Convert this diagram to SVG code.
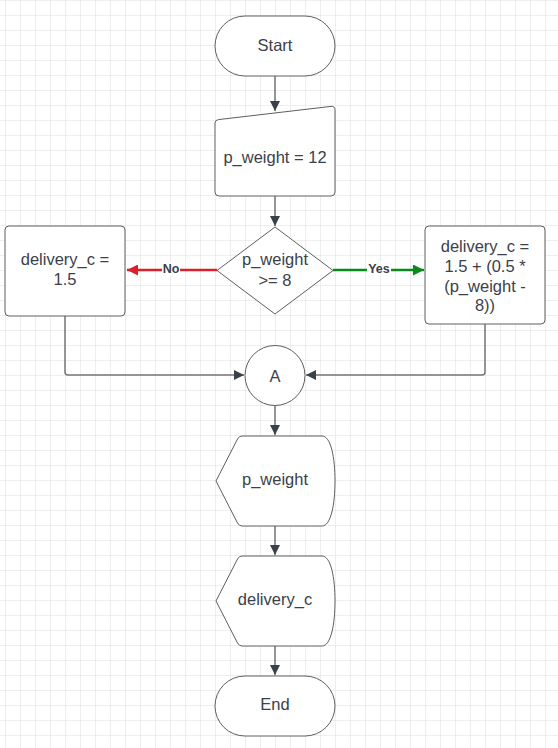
<svg xmlns="http://www.w3.org/2000/svg" width="558" height="748" viewBox="0 0 558 748">
<defs>
<pattern id="grid" x="5" y="0" width="15" height="15" patternUnits="userSpaceOnUse">
<path d="M0 0 H15 M0 0 V15" fill="none" stroke="#dedede" stroke-width="1"/>
</pattern>
<marker id="ah" viewBox="0 0 10 10" refX="10" refY="5" markerWidth="10" markerHeight="10" markerUnits="userSpaceOnUse" orient="auto">
<path d="M0 0 L10 5 L0 10 Z" fill="#3a414a"/>
</marker>
<marker id="ahr" viewBox="0 0 10 10" refX="10" refY="5" markerWidth="11" markerHeight="11" markerUnits="userSpaceOnUse" orient="auto">
<path d="M0 0 L10 5 L0 10 Z" fill="#d9202b"/>
</marker>
<marker id="ahg" viewBox="0 0 10 10" refX="10" refY="5" markerWidth="11" markerHeight="11" markerUnits="userSpaceOnUse" orient="auto">
<path d="M0 0 L10 5 L0 10 Z" fill="#0a8a18"/>
</marker>
</defs>
<style>
.shape{fill:#ffffff;stroke:#5e5e5e;stroke-width:1}
.t{font-family:"Liberation Sans",Arial,sans-serif;font-size:16.5px;fill:#3a414a;text-anchor:middle;dominant-baseline:central}
.lbl{font-family:"Liberation Sans",Arial,sans-serif;font-size:12.5px;font-weight:bold;fill:#3a414a;text-anchor:middle;dominant-baseline:central}
.c{fill:none;stroke:#757575;stroke-width:1.5}
</style>
<rect x="0" y="0" width="558" height="748" fill="#ffffff"/>
<rect x="0" y="0" width="558" height="748" fill="url(#grid)"/>

<g id="connectors">
<path class="c" d="M275 76 V111" marker-end="url(#ah)"/>
<path class="c" d="M275 196 V226" marker-end="url(#ah)"/>
<path d="M217 270 H127" fill="none" stroke="#d9202b" stroke-width="2.5" marker-end="url(#ahr)"/>
<path d="M333 270 H424" fill="none" stroke="#0a8a18" stroke-width="2.5" marker-end="url(#ahg)"/>
<rect x="162" y="262" width="18" height="14" fill="#ffffff"/>
<text class="lbl" x="171" y="269">No</text>
<rect x="367" y="262" width="24" height="14" fill="#ffffff"/>
<text class="lbl" x="379" y="269">Yes</text>
<path class="c" d="M65 316 V372 Q65 375 68 375 H244" marker-end="url(#ah)"/>
<path class="c" d="M485 324 V372 Q485 375 482 375 H306" marker-end="url(#ah)"/>
<path class="c" d="M275 405 V435" marker-end="url(#ah)"/>
<path class="c" d="M275 526 V555" marker-end="url(#ah)"/>
<path class="c" d="M275 646 V675" marker-end="url(#ah)"/>
</g>

<g id="start">
<rect class="shape" x="215" y="16" width="120" height="60" rx="30" ry="30"/>
<text class="t" x="275" y="45">Start</text>
</g>

<g id="input">
<path class="shape" d="M215 123 Q215 120 218.5 119.6 L331 106.4 Q335 106 335 110 L335 192 Q335 196 331 196 L219 196 Q215 196 215 192 Z"/>
<text class="t" x="275" y="157">p_weight = 12</text>
</g>

<g id="decision">
<path class="shape" d="M275 227 L333 270.5 L275 314 L217 270.5 Z"/>
<text class="t" x="275" y="259">p_weight</text>
<text class="t" x="275" y="280">&gt;= 8</text>
</g>

<g id="no-box">
<rect class="shape" x="5" y="226" width="120" height="90" rx="4" ry="4"/>
<text class="t" x="65" y="259">delivery_c =</text>
<text class="t" x="65" y="279">1.5</text>
</g>

<g id="yes-box">
<rect class="shape" x="425" y="226" width="120" height="98" rx="4" ry="4"/>
<text class="t" x="485" y="246">delivery_c =</text>
<text class="t" x="485" y="265.5">1.5 + (0.5 *</text>
<text class="t" x="485" y="285.5">(p_weight -</text>
<text class="t" x="485" y="305">8))</text>
</g>

<g id="connector-a">
<circle class="shape" cx="275" cy="375.5" r="30"/>
<text class="t" x="275" y="375.5">A</text>
</g>

<g id="display-weight">
<path class="shape" d="M242 436 L322 436 C331 436 335 458 335 481 C335 504 331 526 322 526 L242 526 Q239 526 237.5 523 L216 481 L237.5 439 Q239 436 242 436 Z"/>
<text class="t" x="275" y="479">p_weight</text>
</g>

<g id="display-cost">
<path class="shape" d="M242 556 L322 556 C331 556 335 578 335 601 C335 624 331 646 322 646 L242 646 Q239 646 237.5 643 L216 601 L237.5 559 Q239 556 242 556 Z"/>
<text class="t" x="275" y="599">delivery_c</text>
</g>

<g id="end">
<rect class="shape" x="215" y="676" width="120" height="60" rx="30" ry="30"/>
<text class="t" x="275" y="704">End</text>
</g>
</svg>
